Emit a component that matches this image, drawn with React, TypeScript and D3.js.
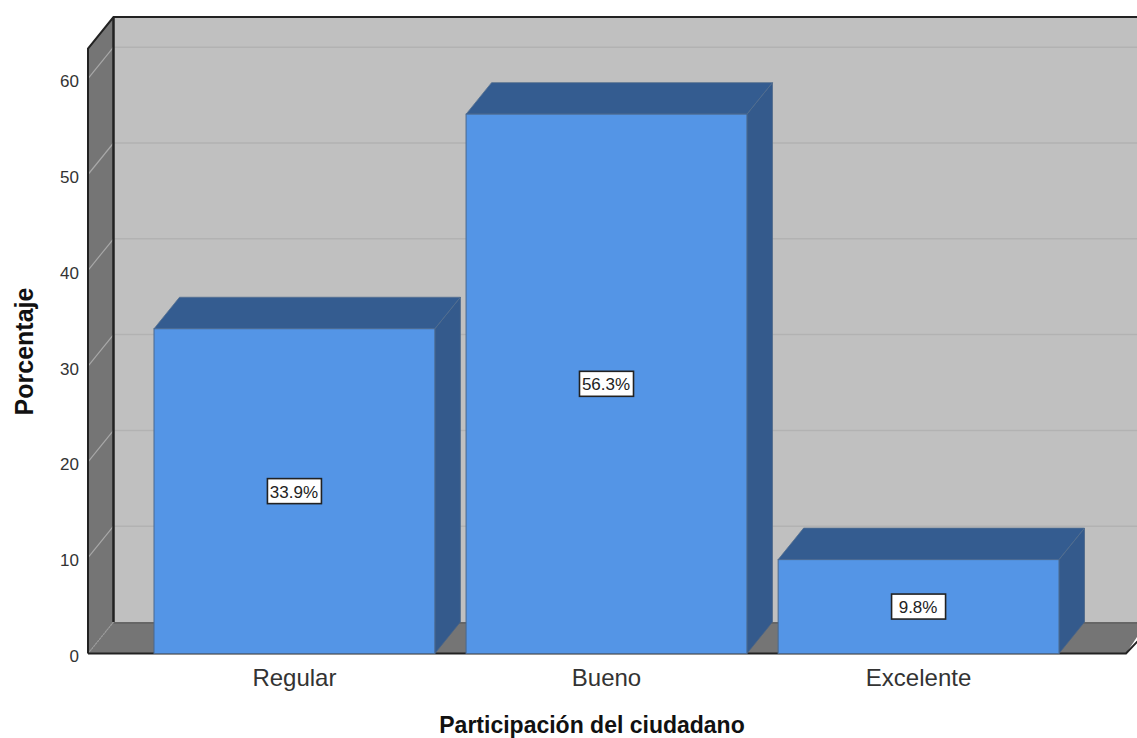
import React from "react";
import * as d3 from "d3";

const categories = ["Regular", "Bueno", "Excelente"];
const percentages = [33.9, 56.3, 9.8];
const valueLabels = ["33.9%", "56.3%", "9.8%"];
const yTicks = [0, 10, 20, 30, 40, 50, 60];
const xTitle = "Participación del ciudadano";
const yTitle = "Porcentaje";

const W = 1137;
const H = 738;
const DX = 25.5;
const DY = 31.5;
const FONT = "'Liberation Sans', Arial, sans-serif";

const y = d3.scaleLinear().domain([0, 60]).range([653.5, 78.7]);
const x = d3.scaleBand<string>().domain(categories).range([154, 1059]).paddingInner(0.1).paddingOuter(0);

const poly = (pts: [number, number][]) => d3.line()(pts)! + "Z";

export default function App() {
  const floorY = y(0);
  const left = 88;
  const backLeft = left + DX;
  const backFloor = floorY - DY;
  const topFront = 48.5;
  const topBack = topFront - DY;
  const rightFront = 1126;

  return (
    <svg
      width={W}
      height={H}
      viewBox={`0 0 ${W} ${H}`}
      style={{ position: "absolute", left: 0, top: 0, background: "#fff", display: "block" }}
    >
      {/* back wall */}
      <rect x={backLeft} y={topBack} width={W - backLeft} height={backFloor - topBack} fill="#c0c0c0" />
      {/* left wall */}
      <path
        d={poly([[left, topFront], [backLeft, topBack], [backLeft, backFloor], [left, floorY]])}
        fill="#757575"
      />
      {/* floor */}
      <path
        d={poly([[left, floorY], [backLeft, backFloor], [W + 10, backFloor], [rightFront, floorY]])}
        fill="#757575"
      />
      <line x1={backLeft} x2={W} y1={backFloor + 1} y2={backFloor + 1} stroke="#666" strokeWidth={2} />

      {/* gridlines across both walls */}
      {yTicks.map((t) => (
        <g key={t}>
          {t > 0 && (
            <line x1={backLeft} x2={W} y1={y(t) - DY} y2={y(t) - DY} stroke="#b2b2b2" strokeWidth={1.5} />
          )}
          <line
            x1={left}
            y1={y(t)}
            x2={backLeft}
            y2={y(t) - DY}
            stroke={t === 0 ? "#9a9a9a" : "#a8a8a8"}
            strokeWidth={1.2}
            strokeDasharray={t === 0 ? "2 1" : undefined}
          />
        </g>
      ))}

      {/* frame edges */}
      <path
        d={`M${left},${floorY} L${left},${topFront} L${backLeft},${topBack} L${W},${topBack}`}
        fill="none"
        stroke="#222"
        strokeWidth={2}
      />
      <line x1={backLeft} x2={backLeft} y1={topBack} y2={backFloor} stroke="#222" strokeWidth={2.5} />
      <path
        d={`M${left},${floorY} L${rightFront},${floorY} L${W + 8},${floorY - 20}`}
        fill="none"
        stroke="#222"
        strokeWidth={2}
      />

      {/* bars */}
      {categories.map((c, i) => {
        const x0 = x(c)!;
        const x1 = x0 + x.bandwidth();
        const top = y(percentages[i]);
        const mid = (top + floorY) / 2;
        const bw = 54;
        return (
          <g key={c}>
            <path
              d={poly([[x1, top], [x1 + DX, top - DY], [x1 + DX, floorY - DY], [x1, floorY]])}
              fill="#345a8c"
              stroke="#4a6486"
              strokeWidth={0.8}
            />
            <path
              d={poly([[x0, top], [x0 + DX, top - DY], [x1 + DX, top - DY], [x1, top]])}
              fill="#345c90"
              stroke="#54708f"
              strokeWidth={0.8}
            />
            <rect x={x0} y={top} width={x1 - x0} height={floorY - top} fill="#5495e6" stroke="#49688f" strokeWidth={1} />
            <rect
              x={(x0 + x1) / 2 - bw / 2}
              y={mid - 12.5}
              width={bw}
              height={25}
              fill="#fff"
              stroke="#222"
              strokeWidth={1.6}
            />
            <text
              x={(x0 + x1) / 2 - 0.5}
              y={mid + 6.5}
              textAnchor="middle"
              fontFamily={FONT}
              fontSize={17}
              fill="#222"
            >
              {valueLabels[i]}
            </text>
            <text
              x={(x0 + x1) / 2}
              y={686}
              textAnchor="middle"
              fontFamily={FONT}
              fontSize={24}
              fill="#333"
            >
              {c}
            </text>
          </g>
        );
      })}

      {/* value axis labels */}
      {yTicks.map((t) => (
        <text
          key={t}
          x={79}
          y={y(t) + 8.5}
          textAnchor="end"
          fontFamily={FONT}
          fontSize={17}
          fill="#333"
        >
          {t}
        </text>
      ))}

      <text
        x={592}
        y={733}
        textAnchor="middle"
        fontFamily={FONT}
        fontSize={23}
        fontWeight="bold"
        fill="#111"
      >
        {xTitle}
      </text>
      <text
        transform="translate(33,351.5) rotate(-90)"
        textAnchor="middle"
        fontFamily={FONT}
        fontSize={25}
        fontWeight="bold"
        fill="#111"
      >
        {yTitle}
      </text>
    </svg>
  );
}
